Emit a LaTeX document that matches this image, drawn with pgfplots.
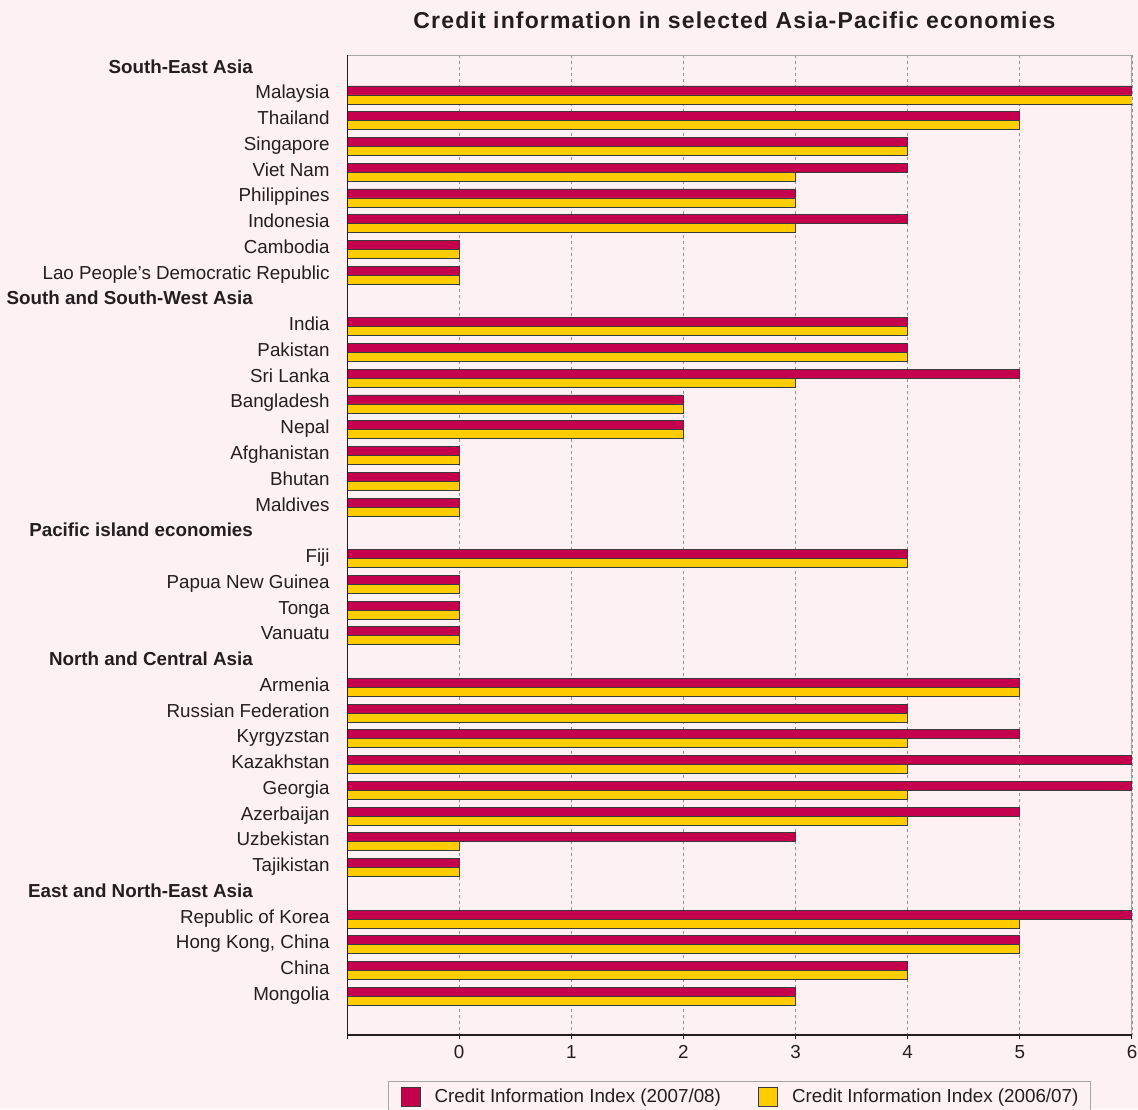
\documentclass[border=0pt]{standalone}
\usepackage{pgfplots}
\pgfplotsset{compat=1.18}
\usepackage{pgfplotstable}
\usepackage{fontspec}
\setmainfont{Liberation Sans}

\definecolor{bgpink}{HTML}{FEF1F4}
\definecolor{crimson}{HTML}{C5004C}
\definecolor{gold}{HTML}{FFCC00}
\definecolor{ink}{HTML}{231F20}
\definecolor{edge}{HTML}{3A3A3A}

% Credit Information Index by economy; idx is the row from the top
% (rows 0, 9, 18, 23 and 32 hold the regional headings)
\pgfplotstableread{
idx v0708 v0607
1  6 6
2  5 5
3  4 4
4  4 3
5  3 3
6  4 3
7  0 0
8  0 0
10 4 4
11 4 4
12 5 3
13 2 2
14 2 2
15 0 0
16 0 0
17 0 0
19 4 4
20 0 0
21 0 0
22 0 0
24 5 5
25 4 4
26 5 4
27 6 4
28 6 4
29 5 4
30 3 0
31 0 0
33 6 5
34 5 5
35 4 4
36 3 3
}\creditdata

\newcommand{\grp}[1]{\textbf{#1}\hspace*{38.35pt}}

\pgfplotsset{
  sq legend/.style={legend image code/.code={%
    \draw[##1,line width=0.4pt] (0pt,-4.75pt) rectangle (9.5pt,4.75pt);}},
}

\begin{document}
\begin{tikzpicture}
\fill[bgpink] (0,0) rectangle (569pt,554.5pt);
\useasboundingbox (0,0) rectangle (569pt,554.5pt);
\begin{axis}[
  at={(173.5pt,37pt)}, anchor=south west,
  scale only axis, width=392.5pt, height=490pt,
  font=\fontsize{9.4}{11}\selectfont,
  % bars grow from the left edge of the scale (-1)
  x coord trafo/.code={\pgfmathparse{#1+1}},
  x coord inv trafo/.code={\pgfmathparse{#1-1}},
  xmin=-1, xmax=6,
  ymin=-0.55, ymax=37.5, y dir=reverse,
  xtick={-1,0,1,2,3,4,5,6},
  xticklabels={,0,1,2,3,4,5,6},
  ytick={0,...,36},
  yticklabels={
    \grp{South-East Asia},
    Malaysia, Thailand, Singapore, Viet Nam, Philippines, Indonesia, Cambodia,
    Lao People’s Democratic Republic,
    \grp{South and South-West Asia},
    India, Pakistan, Sri Lanka, Bangladesh, Nepal, Afghanistan, Bhutan, Maldives,
    \grp{Pacific island economies},
    Fiji, Papua New Guinea, Tonga, Vanuatu,
    \grp{North and Central Asia},
    Armenia, Russian Federation, Kyrgyzstan, Kazakhstan, Georgia, Azerbaijan,
    Uzbekistan, Tajikistan,
    \grp{East and North-East Asia},
    Republic of Korea, {Hong Kong, China}, China, Mongolia},
  tick label style={text=ink, font=\fontsize{9.4}{11}\selectfont},
  yticklabel style={anchor=base east, inner sep=0pt, xshift=-8.5pt, yshift=-2pt},
  xticklabel style={anchor=north, inner sep=0pt, yshift=-3pt},
  ytick style={draw=none},
  xtick align=outside, xtick pos=bottom,
  major tick length=2pt,
  xtick style={ink, line width=0.5pt},
  xmajorgrids,
  major grid style={gray!85, line width=0.4pt, dash pattern=on 1.5pt off 1.5pt},
  axis line style={draw=gray!70, line width=0.5pt},
  title={Credit information in selected Asia-Pacific economies},
  title style={font=\fontsize{11.5}{13}\selectfont\bfseries\addfontfeature{LetterSpace=5},
    text=ink, at={(0.5,1)}, anchor=base, yshift=7.35pt, xshift=-2.5pt, inner sep=0pt},
  legend columns=2,
  legend cell align=left,
  legend style={
    at={(0.5,0)}, anchor=north, yshift=-22.85pt,
    draw=gray!70, line width=0.5pt, fill=bgpink,
    inner xsep=5.85pt, inner ysep=3pt,
    nodes={inner sep=0pt, text=ink, font=\fontsize{9.4}{11}\selectfont},
    /tikz/every odd column/.append style={column sep=7.15pt},
    /tikz/every even column/.append style={column sep=18.5pt},
  },
]
\addplot[xbar, bar width=0.35, bar shift=-0.175, fill=crimson, draw=edge,
  line width=0.4pt, sq legend] table[x=v0708, y=idx] {\creditdata};
\addlegendentry{Credit Information Index (2007/08)}
\addplot[xbar, bar width=0.35, bar shift=0.175, fill=gold, draw=edge,
  line width=0.4pt, sq legend] table[x=v0607, y=idx] {\creditdata};
\addlegendentry{Credit Information Index (2006/07)}
% darker left and bottom axis lines
\draw[ink, line width=0.8pt] (axis description cs:0,1) -- (axis description cs:0,0)
  -- (axis description cs:1,0);
\end{axis}
\end{tikzpicture}
\end{document}
